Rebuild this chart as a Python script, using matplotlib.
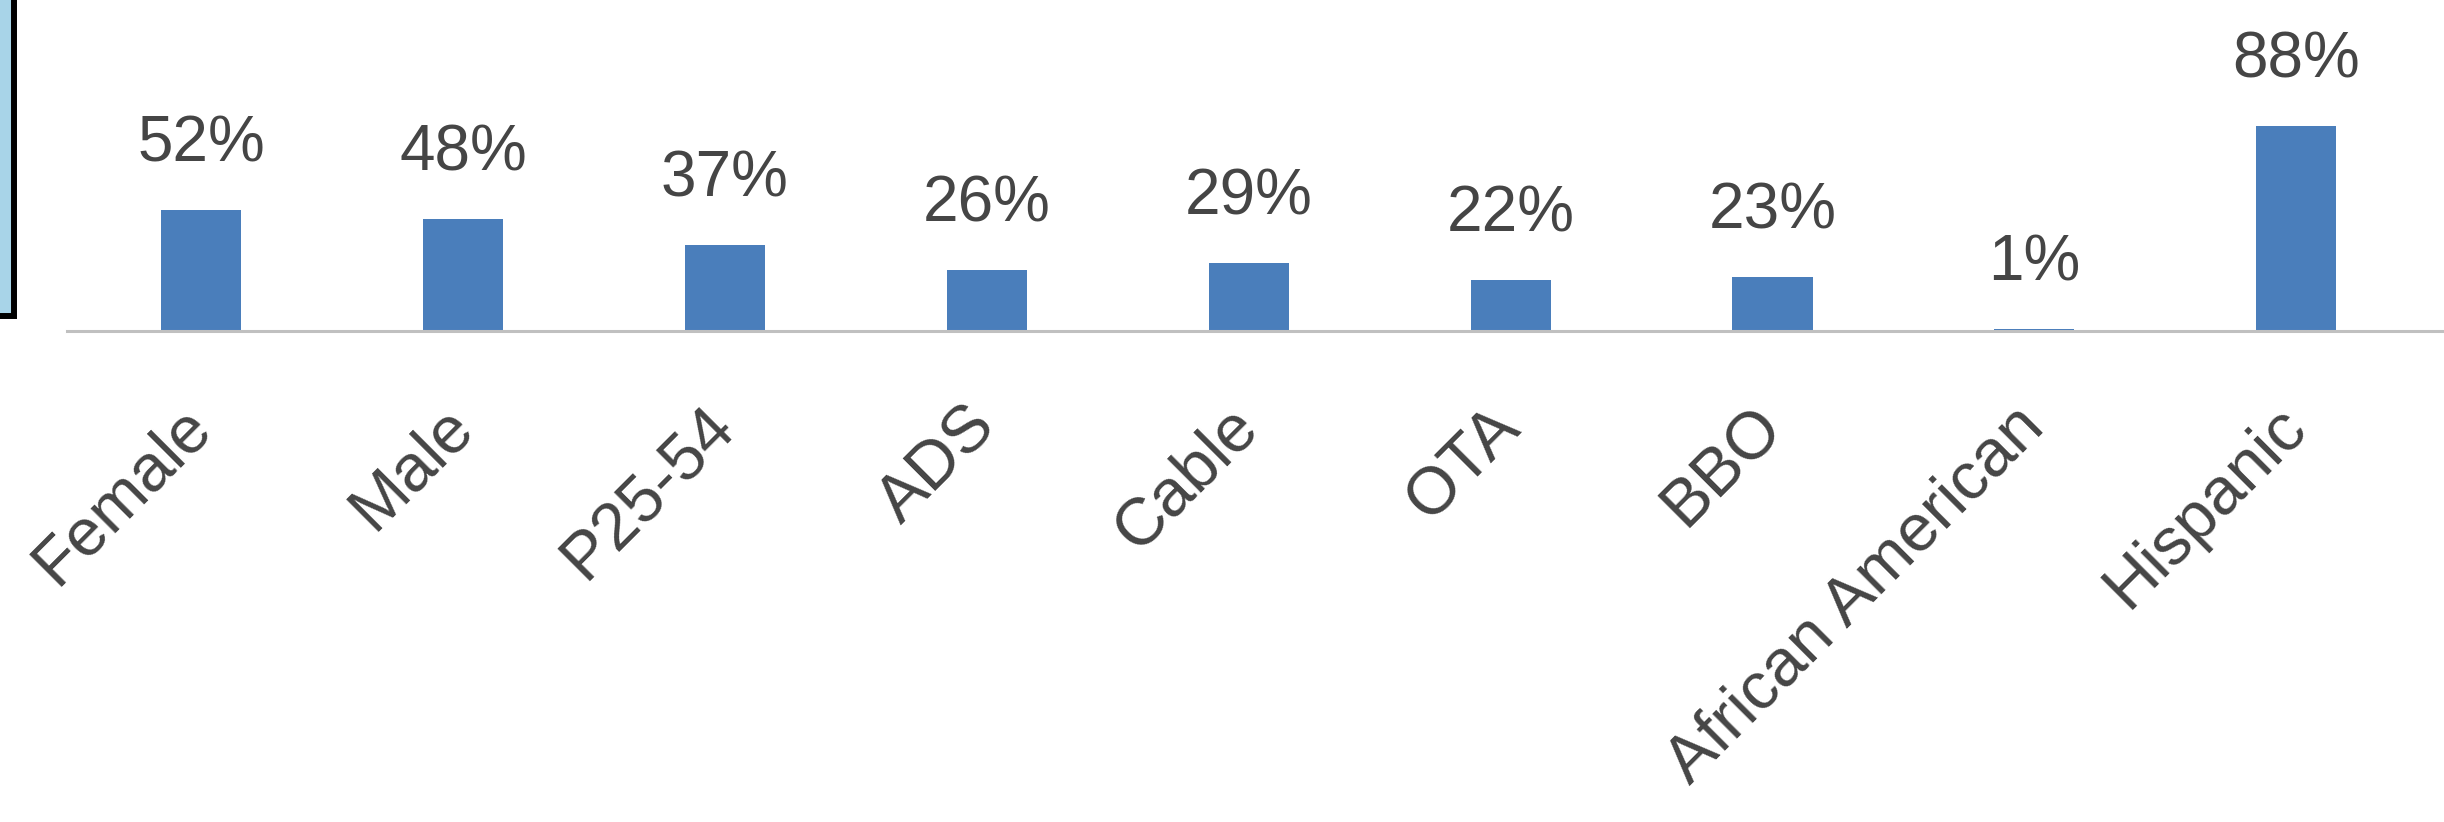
import matplotlib
matplotlib.use("Agg")
import matplotlib.pyplot as plt
from matplotlib.patches import Rectangle

categories = ["Female", "Male", "P25-54", "ADS", "Cable", "OTA", "BBO",
              "African American", "Hispanic"]
values = [52, 48, 37, 26, 29, 22, 23, 1, 88]
value_labels = ["52%", "48%", "37%", "26%", "29%", "22%", "23%", "1%", "88%"]

W, H, DPI = 2444, 822, 100
plt.rcParams['font.family'] = ['Liberation Sans', 'DejaVu Sans']
fig = plt.figure(figsize=(W / DPI, H / DPI), dpi=DPI)
fig.patch.set_facecolor("white")

left_px, base_px = 67, 331
ax = fig.add_axes([left_px / W, (H - base_px) / H, 1 - left_px / W, base_px / H])
ax.set_facecolor("none")

x = list(range(len(categories)))
bar_color = "#4A7EBB"
ax.bar(x, values, width=0.306, color=bar_color, zorder=2)

ax.set_xlim(-0.512, 8.564)
ax.set_ylim(0, 88 * base_px / 205)

text_color = "#454545"
for xi, v, lab in zip(x, values, value_labels):
    ax.annotate(lab, (xi, v), xytext=(0, 35), textcoords="offset points",
                ha="center", va="baseline", fontsize=46, color=text_color)

for s in ["top", "right", "left"]:
    ax.spines[s].set_visible(False)
ax.spines["bottom"].set_color("#C0C0C0")
ax.spines["bottom"].set_linewidth(2.2)
ax.spines["bottom"].set_zorder(3)
ax.set_yticks([])
ax.set_xticks(x)
ax.set_xticklabels(categories, rotation=45, ha="right", va="center",
                   rotation_mode="anchor", fontsize=48, color=text_color)
ax.tick_params(axis="x", length=0, pad=62)

# partial bordered box at the left edge of the screenshot
box = Rectangle((-30 / W, (H - 316) / H), 44 / W, 360 / H,
                transform=fig.transFigure, facecolor="#A8D4E8",
                edgecolor="black", linewidth=4.3, clip_on=False)
fig.patches.append(box)

fig.savefig("out.png", dpi=DPI, facecolor="white")
